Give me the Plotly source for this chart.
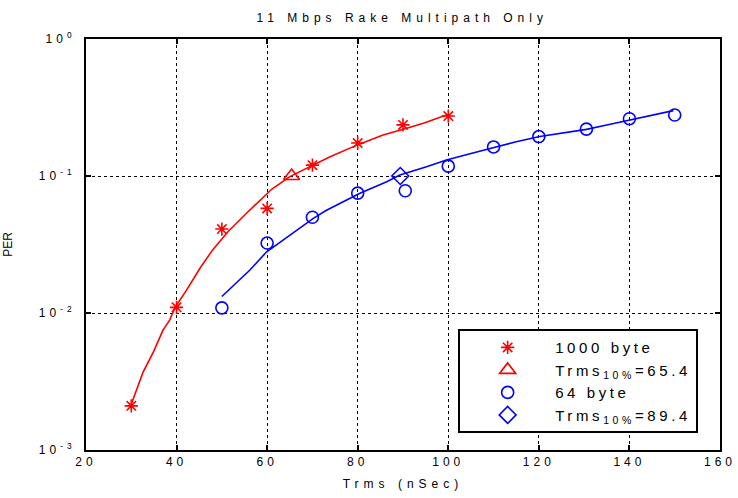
import plotly.graph_objects as go

# Measured points
trms_1000 = [30, 40, 50, 60, 70, 80, 90, 100]
per_1000 = [0.0021, 0.011, 0.041, 0.058, 0.12, 0.174, 0.236, 0.274]
trms_64 = [50, 60, 70, 80, 90.5, 100, 110, 120, 130.5, 140, 150]
per_64 = [0.0109, 0.0324, 0.050, 0.075, 0.078, 0.118, 0.163, 0.194, 0.22, 0.262, 0.279]

# Fitted (simulated) curves
curve_x_1000 = [30.1, 32.6, 34.9, 37.0, 38.5, 39.6, 42.2, 45.2, 48.0, 51.3, 55.5, 58.4,
                61.0, 65.0, 69.4, 73.9, 79.8, 85.6, 90.8, 94.5, 99.6]
curve_y_1000 = [0.0022, 0.0037, 0.0052, 0.0075, 0.0089, 0.0109, 0.0147, 0.0213, 0.029, 0.039,
                0.0537, 0.0668, 0.080, 0.099, 0.117, 0.138, 0.168, 0.199, 0.223, 0.243, 0.279]
curve_x_64 = [50.0, 53.0, 56.2, 59.9, 63.5, 67.2, 70.2, 73.0, 76.1, 80.5, 86.4, 89.3, 95.2,
              99.6, 105.0, 110.3, 115.0, 120.2, 125.0, 130.5, 135.0, 140.1, 145.0, 149.7]
curve_y_64 = [0.0132, 0.0165, 0.0206, 0.028, 0.034, 0.0415, 0.049, 0.056, 0.0632, 0.0748,
              0.0908, 0.1017, 0.117, 0.131, 0.146, 0.162, 0.178, 0.194, 0.205, 0.219, 0.236,
              0.256, 0.278, 0.30]

# 10% thresholds
thr_1000 = [65.4]
thr_1000_y = [0.1]
thr_64 = [89.4]
thr_64_y = [0.1]

x_ticks = [20, 40, 60, 80, 100, 120, 140, 160]
x_ticklabels = ["20", "40", "60", "80", "100", "120", "140", "160"]
y_ticks = [0.001, 0.01, 0.1, 1]
y_ticklabels = ["10<sup>-3</sup>", "10<sup>-2</sup>", "10<sup>-1</sup>", "10<sup>0</sup>"]

title_text = "11 Mbps Rake Multipath Only"
x_title = "Trms (nSec)"
y_title = "PER"
names = ["1000 byte", "Trms<sub>10%</sub>=65.4", "64 byte", "Trms<sub>10%</sub>=89.4"]

RED = "#ff0000"
BLUE = "#0000ff"


def spaced(t, px):
    return f'<span style="letter-spacing:{px}px">{t}</span>'


fig = go.Figure()
fig.add_trace(go.Scatter(x=curve_x_1000, y=curve_y_1000, mode="lines",
                         line=dict(color=RED, width=1.6), showlegend=False, hoverinfo="skip"))
fig.add_trace(go.Scatter(x=curve_x_64, y=curve_y_64, mode="lines",
                         line=dict(color=BLUE, width=1.6), showlegend=False, hoverinfo="skip"))
fig.add_trace(go.Scatter(x=trms_1000, y=per_1000, mode="markers", name=spaced(names[0], 3.6),
                         marker=dict(symbol="asterisk-open", size=11, color=RED,
                                     line=dict(color=RED, width=1.6))))
fig.add_trace(go.Scatter(x=thr_1000, y=thr_1000_y, mode="markers",
                         name=spaced(names[1], 3.6),
                         marker=dict(symbol="triangle-up-open", size=14, color=RED,
                                     line=dict(color=RED, width=1.6))))
fig.add_trace(go.Scatter(x=trms_64, y=per_64, mode="markers", name=spaced(names[2], 3.6),
                         marker=dict(symbol="circle-open", size=12, color=BLUE,
                                     line=dict(color=BLUE, width=1.6))))
fig.add_trace(go.Scatter(x=thr_64, y=thr_64_y, mode="markers",
                         name=spaced(names[3], 3.6),
                         marker=dict(symbol="diamond-open", size=13, color=BLUE,
                                     line=dict(color=BLUE, width=1.6))))

axis_common = dict(showline=True, linecolor="black", linewidth=2, mirror="allticks",
                   ticks="inside", ticklen=5, tickcolor="black", tickwidth=1.5,
                   showgrid=True, gridcolor="black", griddash="dot", gridwidth=1,
                   zeroline=False, tickfont=dict(size=12, color="black"),
                   automargin=False)

fig.update_xaxes(range=[20, 160], tickvals=x_ticks,
                 ticktext=[spaced(t, 4) for t in x_ticklabels],
                 title=dict(text=spaced(x_title, 5), font=dict(size=12, color="black"), standoff=11),
                 **axis_common)
fig.update_yaxes(type="log", range=[-3, 0], tickvals=y_ticks,
                 ticktext=[spaced(t, 4) for t in y_ticklabels],
                 ticklabelstandoff=6,
                 title=dict(text=y_title, font=dict(size=12, color="black"), standoff=24),
                 **axis_common)

fig.update_layout(
    width=738, height=498,
    margin=dict(l=86, r=18, t=39, b=48, autoexpand=False),
    paper_bgcolor="white", plot_bgcolor="white",
    font=dict(family="Liberation Sans, Arial, sans-serif", color="black", size=12),
    title=dict(text=spaced(title_text, 5), x=0.545, xanchor="center",
               y=0.965, yanchor="middle", font=dict(size=12, color="black")),
    legend=dict(x=0.587, y=0.294, xanchor="left", yanchor="top",
                bgcolor="white", bordercolor="black", borderwidth=2,
                font=dict(size=15, color="black"), itemwidth=85,
                tracegroupgap=0),
)

fig.write_html("out.html")
